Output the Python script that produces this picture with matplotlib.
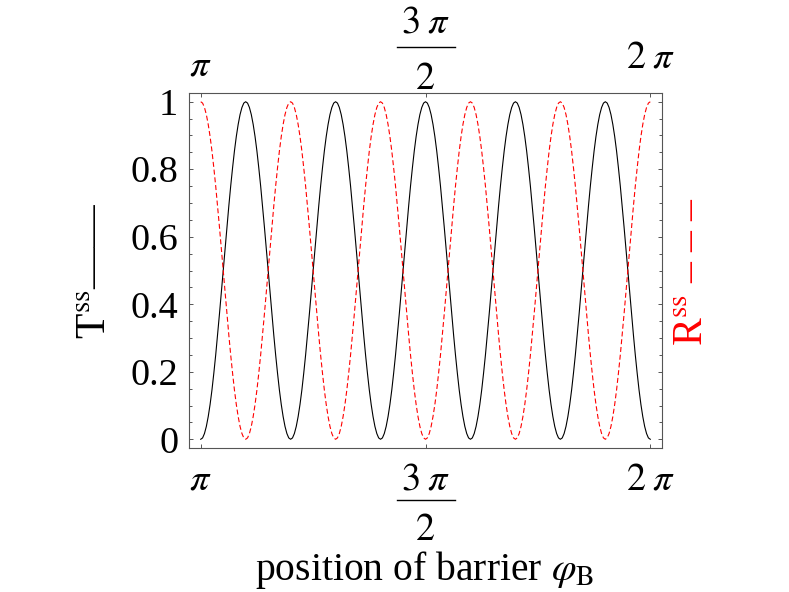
import numpy as np
import matplotlib
matplotlib.use('Agg')
import matplotlib.pyplot as plt
from matplotlib.ticker import MultipleLocator, FixedLocator, FixedFormatter, NullLocator
from matplotlib.transforms import blended_transform_factory
from matplotlib.lines import Line2D

plt.rcParams['font.family'] = ['Liberation Serif', 'DejaVu Serif']
plt.rcParams['mathtext.fontset'] = 'stix'

# ---- data (x in units of pi) ----
x_ticks = [1.0, 1.5, 2.0]
x_tick_labels = [r'$\pi$', None, r'$2\;\pi$']   # middle one is the fraction 3pi/2
frac_num = r'$3\;\pi$'
frac_den = r'$2$'
y_ticks = [0.0, 0.2, 0.4, 0.6, 0.8, 1.0]
y_tick_labels = ['0', '0.2', '0.4', '0.6', '0.8', '1']

T_ss = [
    0.000, 0.004, 0.017, 0.038, 0.067, 0.103, 0.146, 0.196, 0.250, 0.309, 0.371, 0.435,
    0.500, 0.565, 0.629, 0.691, 0.750, 0.804, 0.854, 0.897, 0.933, 0.962, 0.983, 0.996,
    1.000, 0.996, 0.983, 0.962, 0.933, 0.897, 0.854, 0.804, 0.750, 0.691, 0.629, 0.565,
    0.500, 0.435, 0.371, 0.309, 0.250, 0.196, 0.146, 0.103, 0.067, 0.038, 0.017, 0.004,
    0.000, 0.004, 0.017, 0.038, 0.067, 0.103, 0.146, 0.196, 0.250, 0.309, 0.371, 0.435,
    0.500, 0.565, 0.629, 0.691, 0.750, 0.804, 0.854, 0.897, 0.933, 0.962, 0.983, 0.996,
    1.000, 0.996, 0.983, 0.962, 0.933, 0.897, 0.854, 0.804, 0.750, 0.691, 0.629, 0.565,
    0.500, 0.435, 0.371, 0.309, 0.250, 0.196, 0.146, 0.103, 0.067, 0.038, 0.017, 0.004,
    0.000, 0.004, 0.017, 0.038, 0.067, 0.103, 0.146, 0.196, 0.250, 0.309, 0.371, 0.435,
    0.500, 0.565, 0.629, 0.691, 0.750, 0.804, 0.854, 0.897, 0.933, 0.962, 0.983, 0.996,
    1.000, 0.996, 0.983, 0.962, 0.933, 0.897, 0.854, 0.804, 0.750, 0.691, 0.629, 0.565,
    0.500, 0.435, 0.371, 0.309, 0.250, 0.196, 0.146, 0.103, 0.067, 0.038, 0.017, 0.004,
    0.000, 0.004, 0.017, 0.038, 0.067, 0.103, 0.146, 0.196, 0.250, 0.309, 0.371, 0.435,
    0.500, 0.565, 0.629, 0.691, 0.750, 0.804, 0.854, 0.897, 0.933, 0.962, 0.983, 0.996,
    1.000, 0.996, 0.983, 0.962, 0.933, 0.897, 0.854, 0.804, 0.750, 0.691, 0.629, 0.565,
    0.500, 0.435, 0.371, 0.309, 0.250, 0.196, 0.146, 0.103, 0.067, 0.038, 0.017, 0.004,
    0.000, 0.004, 0.017, 0.038, 0.067, 0.103, 0.146, 0.196, 0.250, 0.309, 0.371, 0.435,
    0.500, 0.565, 0.629, 0.691, 0.750, 0.804, 0.854, 0.897, 0.933, 0.962, 0.983, 0.996,
    1.000, 0.996, 0.983, 0.962, 0.933, 0.897, 0.854, 0.804, 0.750, 0.691, 0.629, 0.565,
    0.500, 0.435, 0.371, 0.309, 0.250, 0.196, 0.146, 0.103, 0.067, 0.038, 0.017, 0.004,
    0.000,
]

# reflection R^ss, same sampling
R_ss = [
    1.000, 0.996, 0.983, 0.962, 0.933, 0.897, 0.854, 0.804, 0.750, 0.691, 0.629, 0.565,
    0.500, 0.435, 0.371, 0.309, 0.250, 0.196, 0.146, 0.103, 0.067, 0.038, 0.017, 0.004,
    0.000, 0.004, 0.017, 0.038, 0.067, 0.103, 0.146, 0.196, 0.250, 0.309, 0.371, 0.435,
    0.500, 0.565, 0.629, 0.691, 0.750, 0.804, 0.854, 0.897, 0.933, 0.962, 0.983, 0.996,
    1.000, 0.996, 0.983, 0.962, 0.933, 0.897, 0.854, 0.804, 0.750, 0.691, 0.629, 0.565,
    0.500, 0.435, 0.371, 0.309, 0.250, 0.196, 0.146, 0.103, 0.067, 0.038, 0.017, 0.004,
    0.000, 0.004, 0.017, 0.038, 0.067, 0.103, 0.146, 0.196, 0.250, 0.309, 0.371, 0.435,
    0.500, 0.565, 0.629, 0.691, 0.750, 0.804, 0.854, 0.897, 0.933, 0.962, 0.983, 0.996,
    1.000, 0.996, 0.983, 0.962, 0.933, 0.897, 0.854, 0.804, 0.750, 0.691, 0.629, 0.565,
    0.500, 0.435, 0.371, 0.309, 0.250, 0.196, 0.146, 0.103, 0.067, 0.038, 0.017, 0.004,
    0.000, 0.004, 0.017, 0.038, 0.067, 0.103, 0.146, 0.196, 0.250, 0.309, 0.371, 0.435,
    0.500, 0.565, 0.629, 0.691, 0.750, 0.804, 0.854, 0.897, 0.933, 0.962, 0.983, 0.996,
    1.000, 0.996, 0.983, 0.962, 0.933, 0.897, 0.854, 0.804, 0.750, 0.691, 0.629, 0.565,
    0.500, 0.435, 0.371, 0.309, 0.250, 0.196, 0.146, 0.103, 0.067, 0.038, 0.017, 0.004,
    0.000, 0.004, 0.017, 0.038, 0.067, 0.103, 0.146, 0.196, 0.250, 0.309, 0.371, 0.435,
    0.500, 0.565, 0.629, 0.691, 0.750, 0.804, 0.854, 0.897, 0.933, 0.962, 0.983, 0.996,
    1.000, 0.996, 0.983, 0.962, 0.933, 0.897, 0.854, 0.804, 0.750, 0.691, 0.629, 0.565,
    0.500, 0.435, 0.371, 0.309, 0.250, 0.196, 0.146, 0.103, 0.067, 0.038, 0.017, 0.004,
    0.000, 0.004, 0.017, 0.038, 0.067, 0.103, 0.146, 0.196, 0.250, 0.309, 0.371, 0.435,
    0.500, 0.565, 0.629, 0.691, 0.750, 0.804, 0.854, 0.897, 0.933, 0.962, 0.983, 0.996,
    1.000,
]

phi = np.linspace(1.0, 2.0, len(T_ss))

W, H = 789, 592
fig = plt.figure(figsize=(W / 100, H / 100), dpi=100)
ax = fig.add_axes([189.3 / W, 1 - 447.7 / H, (661.7 - 189.3) / W, (447.7 - 93.3) / H])

ax.plot(phi, T_ss, color='black', lw=0.8)
ax.plot(phi, R_ss, color='red', lw=0.8, linestyle=(0, (4.5, 2.5)))

ax.set_xlim(1 - 0.0254, 2 + 0.0254)
ax.set_ylim(-0.025, 1.025)

spine_c = '#555555'
for s in ax.spines.values():
    s.set_color(spine_c)
    s.set_linewidth(0.8)

ax.xaxis.set_major_locator(FixedLocator(x_ticks))
ax.xaxis.set_minor_locator(NullLocator())
ax.yaxis.set_major_locator(FixedLocator(y_ticks))
ax.yaxis.set_major_formatter(FixedFormatter(y_tick_labels))
ax.yaxis.set_minor_locator(MultipleLocator(0.05))

ax.tick_params(axis='both', which='both', direction='in', color=spine_c, width=0.7,
               top=True, right=True, labeltop=False, labelright=False)
ax.tick_params(axis='x', labelbottom=False)
ax.tick_params(which='major', length=3.2)
ax.tick_params(which='minor', length=2.0)
ax.tick_params(axis='y', labelsize=27.5, pad=8)

# x tick labels (bottom and top)
tr = blended_transform_factory(ax.transData, fig.transFigure)
xfs = 27.5
top_bottoms = [83, None, 75]
for xv, lab, yb in zip(x_ticks, x_tick_labels, top_bottoms):
    if lab is None:
        continue
    ax.text(xv, 1 - 463 / H, lab, transform=tr, ha='center', va='top', fontsize=xfs)
    ax.text(xv, 1 - yb / H, lab, transform=tr, ha='center', va='bottom', fontsize=xfs)

# fraction 3pi/2 (bottom and top) built from numerator, bar and denominator
xf = x_ticks[1]
ax.text(xf, 1 - 463 / H, frac_num, transform=tr, ha='center', va='top', fontsize=xfs)
ax.text(xf, 1 - 513 / H, frac_den, transform=tr, ha='center', va='top', fontsize=xfs)
ax.text(xf, 1 - 6 / H, frac_num, transform=tr, ha='center', va='top', fontsize=xfs)
ax.text(xf, 1 - 97 / H, frac_den, transform=tr, ha='center', va='bottom', fontsize=xfs)

xc = ax.transData.transform((xf, 0))[0]
for ybar in [500, 47]:
    fig.add_artist(Line2D([(xc - 29) / W, (xc + 29) / W], [1 - ybar / H, 1 - ybar / H],
                          transform=fig.transFigure, color='black', lw=1.0))

# axis labels
fig.text(96 / W, 1 - 271 / H, 'T$^{\\mathrm{ss}}$——', rotation=90, ha='center', va='center',
         fontsize=30, color='black')
fig.text(693 / W, 1 - 271.5 / H, 'R$^{\\mathrm{ss}}$ – – –', rotation=90, ha='center', va='center',
         fontsize=30, color='red')
fig.text(424.5 / W, 1 - 580 / H, 'position of barrier $\\varphi_{\\mathrm{B}}$', ha='center',
         va='baseline', fontsize=28.5)

fig.savefig('out.png', dpi=100)
